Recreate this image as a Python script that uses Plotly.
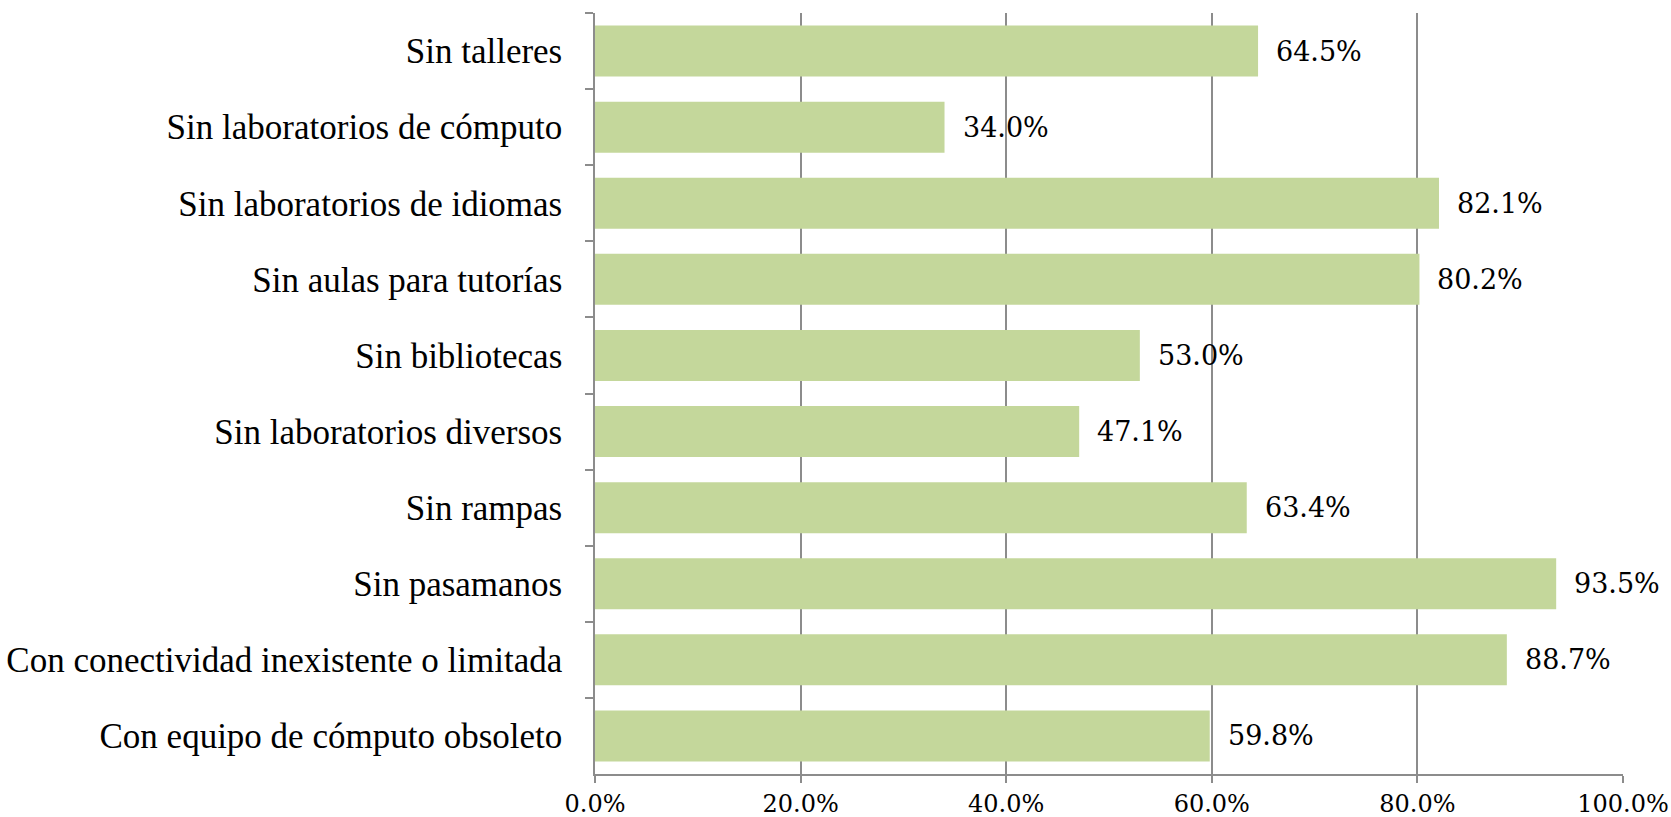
import plotly.graph_objects as go

categories = [
    "Sin talleres",
    "Sin laboratorios de cómputo",
    "Sin laboratorios de idiomas",
    "Sin aulas para tutorías",
    "Sin bibliotecas",
    "Sin laboratorios diversos",
    "Sin rampas",
    "Sin pasamanos",
    "Con conectividad inexistente o limitada",
    "Con equipo de cómputo obsoleto",
]
values = [0.645, 0.340, 0.821, 0.802, 0.530, 0.471, 0.634, 0.935, 0.887, 0.598]
x_ticks = [0, 0.2, 0.4, 0.6, 0.8, 1.0]

BAR = "#C4D79B"
GRID = "#8C8C8C"

fig = go.Figure()
fig.add_trace(go.Bar(
    x=values, y=categories, orientation="h",
    marker=dict(color=BAR, line=dict(width=0)),
    hoverinfo="skip",
))

for c, v in zip(categories, values):
    fig.add_annotation(
        x=v, y=c, text=f"{v:.1%}", showarrow=False,
        xanchor="left", yanchor="middle", xshift=16,
        font=dict(family="DejaVu Serif", size=27, color="#000000"),
    )

fig.update_layout(
    width=1671, height=817,
    margin=dict(l=595, r=48, t=13, b=43),
    paper_bgcolor="white", plot_bgcolor="white",
    bargap=0.33,
    showlegend=False,
)
fig.update_xaxes(
    range=[0, 1], tickvals=x_ticks, tickformat=".1%",
    showgrid=True, gridcolor=GRID, gridwidth=1.5,
    showline=True, linecolor=GRID, linewidth=1.5,
    ticks="outside", ticklen=7, tickcolor=GRID, tickwidth=1.5,
    tickfont=dict(family="DejaVu Serif", size=24, color="#000000"),
    zeroline=False, automargin=False,
)
fig.update_yaxes(
    categoryorder="array", categoryarray=categories, autorange="reversed",
    showline=True, linecolor=GRID, linewidth=1.5,
    ticks="outside", ticklen=8, tickcolor=GRID, tickwidth=1.5,
    tickson="boundaries", ticklabelstandoff=24,
    tickfont=dict(family="Liberation Serif", size=35, color="#000000"),
    showgrid=False, automargin=False,
)

fig.write_html(
    "out.html",
    config={"displayModeBar": False},
    post_script="document.body.style.margin='0';document.body.style.overflow='hidden';",
)
